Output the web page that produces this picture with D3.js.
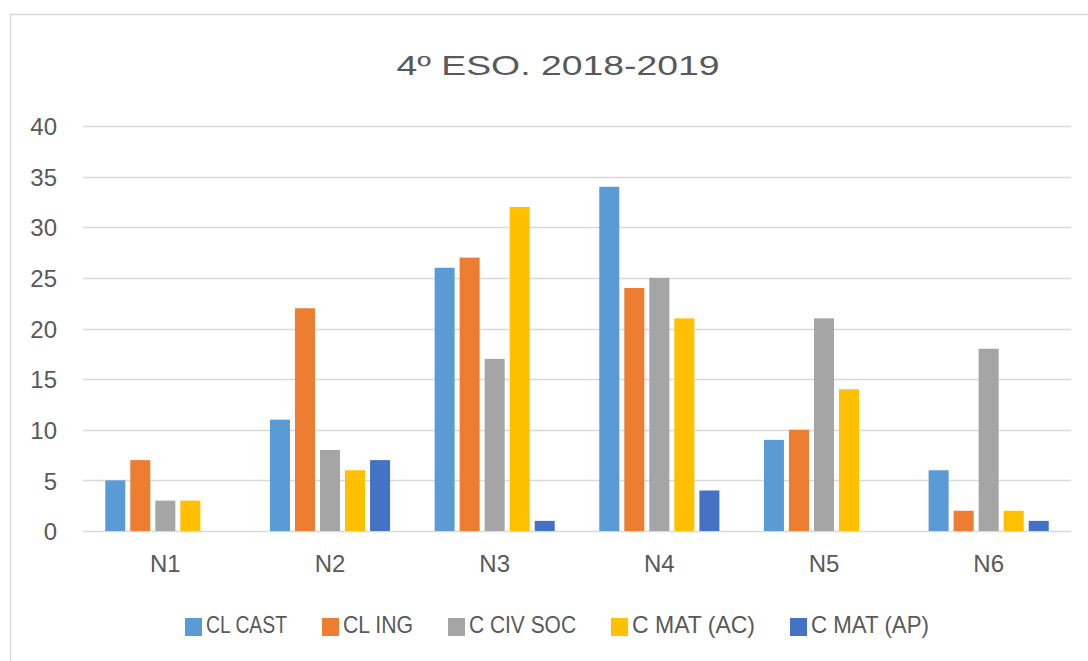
<!DOCTYPE html>
<html>
<head>
<meta charset="utf-8">
<script src="https://cdn.jsdelivr.net/npm/d3@7"></script>
<style>
  body { margin: 0; background: #fff; }
  text { font-family: "Liberation Sans", Arial, sans-serif; fill: #595959; }
</style>
</head>
<body>
<div id="chart"></div>
<script>
// Data
var categories = ["N1", "N2", "N3", "N4", "N5", "N6"];
var seriesNames = ["CL CAST", "CL ING", "C CIV SOC", "C MAT (AC)", "C MAT (AP)"];
var clCast = [5, 11, 26, 34, 9, 6];
var clIng = [7, 22, 27, 24, 10, 2];
var cCivSoc = [3, 8, 17, 25, 21, 18];
var cMatAc = [3, 6, 32, 21, 14, 2];
var cMatAp = [0, 7, 1, 4, 0, 1];
var yTicks = [0, 5, 10, 15, 20, 25, 30, 35, 40];

var seriesValues = [clCast, clIng, cCivSoc, cMatAc, cMatAp];
var colors = ["#5B9BD5", "#ED7D31", "#A5A5A5", "#FFC000", "#4472C4"];

var W = 1088, H = 661;
var margin = { top: 126, right: 17, bottom: 130, left: 83 },
  width = W - margin.left - margin.right,
  height = H - margin.top - margin.bottom;

var root = d3.select("#chart").append("svg")
  .attr("width", W)
  .attr("height", H);

// chart frame
root.append("rect")
  .attr("x", 10.5).attr("y", 14.5)
  .attr("width", 1200).attr("height", 800)
  .attr("fill", "none")
  .attr("stroke", "#D9D9D9")
  .attr("stroke-width", 1.5);

root.append("text")
  .attr("x", 558)
  .attr("y", 75)
  .attr("text-anchor", "middle")
  .attr("textLength", 323)
  .attr("lengthAdjust", "spacingAndGlyphs")
  .style("font-size", "28px")
  .text("4º ESO. 2018-2019");

var svg = root.append("g")
  .attr("transform", "translate(" + margin.left + "," + margin.top + ")");

var x0 = d3.scaleBand().domain(categories).range([0, width]).paddingInner(0.24).paddingOuter(0.12);
var x1 = d3.scaleBand().domain(d3.range(seriesNames.length)).range([0, x0.bandwidth()]).paddingInner(0.2).paddingOuter(0.1);
var y = d3.scaleLinear().domain([0, 40]).range([height, 0]);

// gridlines
svg.append("g")
  .selectAll("line")
  .data(yTicks)
  .enter()
  .append("line")
  .attr("x1", 0)
  .attr("x2", width)
  .attr("y1", (d) => Math.round(y(d)) + 0.5)
  .attr("y2", (d) => Math.round(y(d)) + 0.5)
  .attr("stroke", "#D9D9D9")
  .attr("stroke-width", 1.5);

// y axis labels
var yAxis = svg.append("g")
  .call(d3.axisLeft(y).tickValues(yTicks).tickSize(0).tickPadding(26));
yAxis.select(".domain").remove();
yAxis.selectAll("text")
  .style("font-size", "24px")
  .attr("dy", "0.36em")
  .attr("fill", "#595959");

// x axis labels
var xAxis = svg.append("g")
  .attr("transform", "translate(0," + height + ")")
  .call(d3.axisBottom(x0).tickSize(0).tickPadding(24));
xAxis.select(".domain").remove();
xAxis.selectAll("text")
  .style("font-size", "24px")
  .attr("dy", "0.72em")
  .attr("fill", "#595959");

// bars
var groups = svg.selectAll(".cat")
  .data(categories)
  .enter()
  .append("g")
  .attr("class", "cat")
  .attr("transform", (d) => "translate(" + x0(d) + ",0)");

groups.selectAll("rect")
  .data((d, i) => seriesValues.map((vals, s) => ({ s: s, v: vals[i] })))
  .enter()
  .filter((d) => d.v > 0)
  .append("rect")
  .attr("x", (d) => x1(d.s))
  .attr("width", x1.bandwidth())
  .attr("y", (d) => y(d.v))
  .attr("height", (d) => height - y(d.v))
  .attr("fill", (d) => colors[d.s]);

// legend (narrow Calibri-like text, squeezed to the widths in the picture)
var legendTextWidths = [81, 70, 107, 123, 118];
var legend = root.append("g").attr("transform", "translate(185,633)");
var lx = 0;
seriesNames.forEach(function (name, i) {
  var g = legend.append("g").attr("transform", "translate(" + lx + ",0)");
  g.append("rect")
    .attr("x", 0).attr("y", -15)
    .attr("width", 17).attr("height", 18)
    .attr("fill", colors[i]);
  g.append("text")
    .attr("x", 21).attr("y", 0)
    .attr("textLength", legendTextWidths[i])
    .attr("lengthAdjust", "spacingAndGlyphs")
    .style("font-size", "24px")
    .text(name);
  lx += 21 + legendTextWidths[i] + 35;
});
</script>
</body>
</html>
